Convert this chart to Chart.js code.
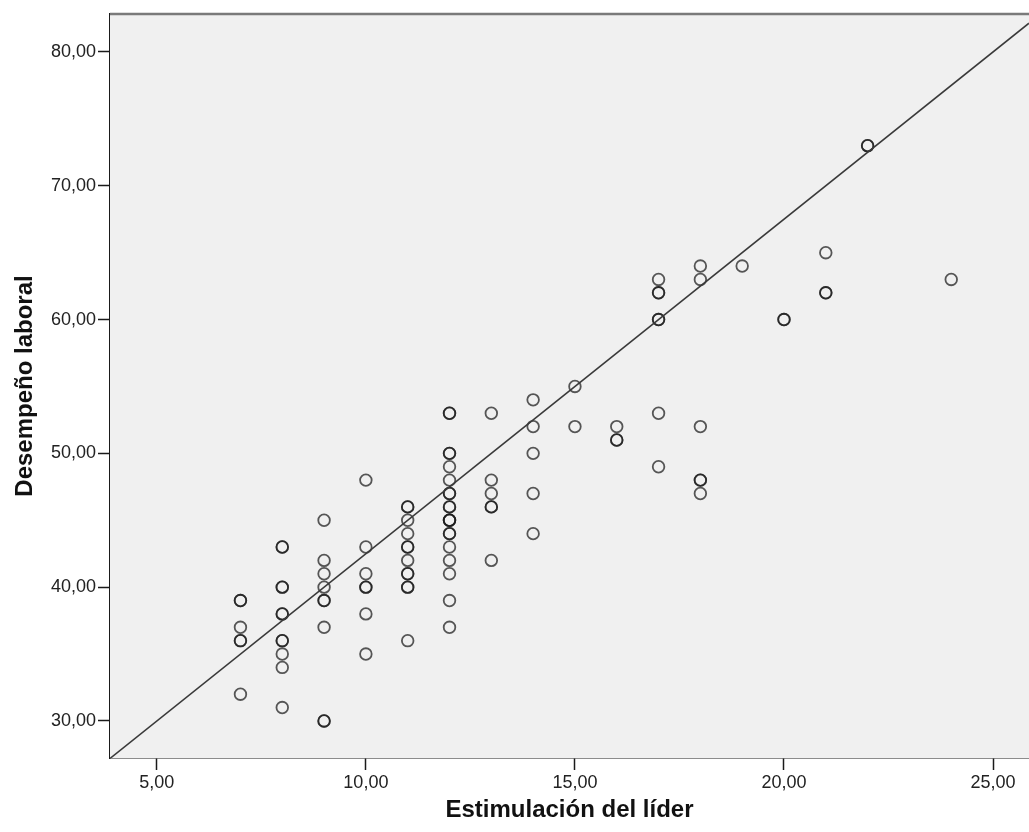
<!DOCTYPE html>
<html>
<head>
<meta charset="utf-8">
<script src="https://cdn.jsdelivr.net/npm/chart.js@4/dist/chart.umd.min.js"></script>
<style>
  body { margin: 0; background: #fff; }
  #wrap { width: 1029px; height: 832px; }
</style>
</head>
<body>
<div id="wrap"><canvas id="scatter" width="1029" height="832"></canvas></div>
<script>
// Estimulación del líder (x) -> Desempeño laboral (y), one list per x value
const liderValues = [7, 8, 9, 10, 11, 12, 13, 14, 15, 16, 17, 18, 19, 20, 21, 22, 24];
const desempenoPorLider = [
    [39, 39, 37, 36, 36, 32],
    [43, 43, 40, 40, 38, 38, 36, 36, 35, 34, 31],
    [45, 42, 41, 40, 39, 39, 37, 30, 30],
    [48, 43, 41, 40, 40, 38, 35],
    [46, 46, 45, 44, 43, 43, 42, 41, 41, 40, 40, 36],
    [53, 53, 50, 50, 49, 48, 47, 47, 46, 46, 45, 45, 45, 44, 44, 43, 42, 41, 39, 37],
    [53, 48, 47, 46, 46, 42],
    [54, 52, 50, 47, 44],
    [55, 52],
    [52, 51, 51],
    [63, 62, 62, 60, 60, 53, 49],
    [64, 63, 52, 48, 48, 47],
    [64],
    [60, 60],
    [65, 62, 62],
    [73, 73],
    [63]
];
const xTicks = [5, 10, 15, 20, 25];
const yTicks = [30, 40, 50, 60, 70, 80];
const xRange = [3.88, 25.86];
const yRange = [27.23, 82.84];
// fitted line
const lineIntercept = 17.5;
const lineSlope = 2.5;

const points = [];
liderValues.forEach((x, i) => {
    desempenoPorLider[i].forEach(y => points.push({x: x, y: y}));
});
const fitLine = xRange.map(x => ({x: x, y: lineIntercept + lineSlope * x}));

const fmt = v => v.toFixed(2).replace('.', ',');

const plotFrame = {
    id: 'plotFrame',
    beforeDatasetsDraw(chart) {
        const {ctx, chartArea: a} = chart;
        ctx.save();
        ctx.fillStyle = '#f0f0f0';
        ctx.fillRect(a.left, a.top, a.right - a.left, a.bottom - a.top);
        ctx.restore();
    },
    afterDraw(chart) {
        const {ctx, chartArea: a} = chart;
        ctx.save();
        ctx.strokeStyle = '#7a7a7a';
        ctx.lineWidth = 2.5;
        ctx.beginPath();
        ctx.moveTo(a.left, a.top);
        ctx.lineTo(a.right, a.top);
        ctx.stroke();
        ctx.restore();
    }
};

new Chart(document.getElementById('scatter'), {
    type: 'scatter',
    data: {
        datasets: [{
            label: 'Desempeño laboral',
            data: points,
            pointStyle: 'circle',
            pointRadius: 5.8,
            pointBorderWidth: 1.8,
            pointBorderColor: 'rgba(25,25,25,0.72)',
            pointBackgroundColor: 'rgba(0,0,0,0)',
            order: 2
        }, {
            type: 'line',
            label: 'Ajuste',
            data: fitLine,
            borderColor: '#3a3a3a',
            borderWidth: 1.6,
            pointRadius: 0,
            fill: false,
            order: 1
        }]
    },
    plugins: [plotFrame],
    options: {
        responsive: false,
        animation: false,
        layout: {autoPadding: false, padding: {top: 14, right: 0, left: 0, bottom: 0}},
        plugins: {
            legend: {display: false},
            tooltip: {enabled: false}
        },
        scales: {
            x: {
                type: 'linear',
                min: xRange[0],
                max: xRange[1],
                afterBuildTicks: s => { s.ticks = xTicks.map(v => ({value: v})); },
                afterFit: s => { s.height = 74; s.paddingRight = 0; s.paddingLeft = 0; },
                border: {display: true, color: '#1a1a1a', width: 1.5},
                grid: {drawOnChartArea: false, drawTicks: true, tickLength: 12, tickColor: '#1a1a1a', tickWidth: 1.5},
                ticks: {
                    callback: v => fmt(v),
                    color: '#222',
                    padding: 2,
                    maxRotation: 0,
                    font: {family: 'Arial, "Liberation Sans", sans-serif', size: 18}
                },
                title: {
                    display: true,
                    text: 'Estimulación del líder',
                    color: '#111',
                    padding: {top: 0, bottom: 7},
                    font: {family: 'Arial, "Liberation Sans", sans-serif', size: 24, weight: 'bold'}
                }
            },
            y: {
                type: 'linear',
                min: yRange[0],
                max: yRange[1],
                afterBuildTicks: s => { s.ticks = yTicks.map(v => ({value: v})); },
                afterFit: s => { s.width = 110; s.paddingTop = 0; s.paddingBottom = 0; },
                border: {display: true, color: '#1a1a1a', width: 1.5},
                grid: {drawOnChartArea: false, drawTicks: true, tickLength: 12, tickColor: '#1a1a1a', tickWidth: 1.5},
                ticks: {
                    callback: v => fmt(v),
                    color: '#222',
                    padding: 2,
                    font: {family: 'Arial, "Liberation Sans", sans-serif', size: 18}
                },
                title: {
                    display: true,
                    text: 'Desempeño laboral',
                    color: '#111',
                    padding: {top: 11, bottom: 0},
                    font: {family: 'Arial, "Liberation Sans", sans-serif', size: 24, weight: 'bold'}
                }
            }
        }
    }
});
</script>
</body>
</html>
